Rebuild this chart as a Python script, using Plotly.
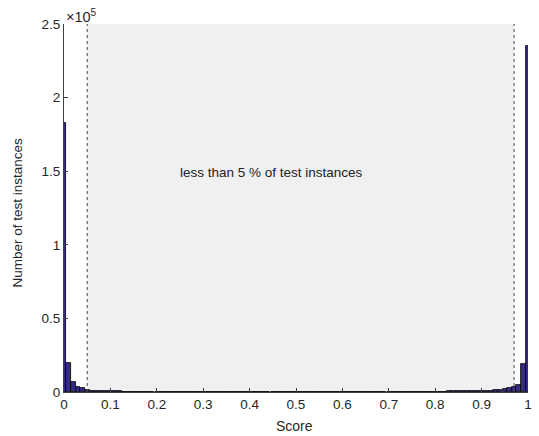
import plotly.graph_objects as go

# Histogram: bin centers k/100, k = 0..100
bin_centers = [k / 100 for k in range(101)]
counts = [
    183000, 20000, 7000, 3500, 2700, 1700, 1000, 800, 600, 500,   # 0.00-0.09
    450, 400, 360, 330, 300, 280, 260, 250, 240, 230,             # 0.10-0.19
    220, 210, 205, 200, 195, 190, 185, 180, 175, 170,             # 0.20-0.29
    170, 165, 160, 160, 155, 155, 150, 150, 150, 145,             # 0.30-0.39
    145, 145, 140, 140, 140, 140, 140, 140, 140, 140,             # 0.40-0.49
    140, 140, 140, 140, 140, 145, 145, 145, 150, 150,             # 0.50-0.59
    150, 155, 155, 160, 160, 165, 170, 175, 180, 185,             # 0.60-0.69
    190, 195, 200, 210, 220, 230, 240, 250, 260, 280,             # 0.70-0.79
    300, 320, 340, 360, 390, 420, 460, 510, 560, 650,             # 0.80-0.89
    750, 850, 950, 1200, 1400, 1900, 2700, 3100, 4800, 19000,     # 0.90-0.99
    235000,                                                       # 1.00
]

band_x = [0.05, 0.97]
y_tick_vals = [0, 50000, 100000, 150000, 200000, 250000]
y_tick_text = ["0", "0.5", "1", "1.5", "2", "2.5"]
x_tick_vals = [0, 0.1, 0.2, 0.3, 0.4, 0.5, 0.6, 0.7, 0.8, 0.9, 1.0]
x_tick_text = ["0", "0.1", "0.2", "0.3", "0.4", "0.5", "0.6", "0.7", "0.8", "0.9", "1"]
annotation_text = "less than 5 % of test instances"
x_title = "Score"
y_title = "Number of test instances"

FONT = "Liberation Sans, Arial, sans-serif"

fig = go.Figure()
fig.add_trace(go.Bar(
    x=bin_centers, y=counts, width=0.0099,
    marker=dict(color="#352a87", line=dict(color="#000000", width=0.8)),
    showlegend=False, hoverinfo="skip",
))

fig.add_shape(type="rect", xref="x", yref="y", x0=band_x[0], x1=band_x[1],
              y0=0, y1=250000, fillcolor="#f0f0f0", line=dict(width=0), layer="below")
for bx in band_x:
    fig.add_shape(type="line", xref="x", yref="y", x0=bx, x1=bx, y0=0, y1=250000,
                  line=dict(color="#444444", width=1, dash="dot"), layer="above")

fig.add_annotation(x=0.447, y=149000, xref="x", yref="y", text=annotation_text,
                   showarrow=False, font=dict(family=FONT, size=13.5, color="#222222"))
fig.add_annotation(x=0, y=1, xref="paper", yref="paper", xanchor="left", yanchor="bottom",
                   text="×10<sup>5</sup>", showarrow=False, xshift=0, yshift=-3,
                   font=dict(family=FONT, size=14.5, color="#262626"))
# axis titles
fig.add_annotation(x=-0.1004, y=0.489, xref="paper", yref="paper",
                   xanchor="center", yanchor="middle", textangle=-90,
                   text=y_title, showarrow=False,
                   font=dict(family=FONT, size=13.5, color="#262626"))
fig.add_annotation(x=0.496, y=-0.0924, xref="paper", yref="paper",
                   xanchor="center", yanchor="middle",
                   text=x_title, showarrow=False,
                   font=dict(family=FONT, size=14, color="#262626"))

fig.update_layout(
    width=539, height=436,
    margin=dict(l=64, r=7, t=24, b=44),
    paper_bgcolor="white", plot_bgcolor="white",
    font=dict(family=FONT, size=13, color="#262626"),
    bargap=0,
    xaxis=dict(range=[0, 1], tickvals=x_tick_vals, ticktext=x_tick_text,
               ticks="inside", ticklen=4, tickcolor="#404040",
               tickfont=dict(family=FONT, size=13.5),
               showline=True, linecolor="#404040", linewidth=1, showgrid=False,
               zeroline=False),
    yaxis=dict(range=[0, 250000], tickvals=y_tick_vals, ticktext=y_tick_text,
               ticks="inside", ticklen=4, tickcolor="#404040",
               tickfont=dict(family=FONT, size=13.5),
               showline=True, linecolor="#404040", linewidth=1, showgrid=False,
               zeroline=False),
)

fig.write_html("out.html")
